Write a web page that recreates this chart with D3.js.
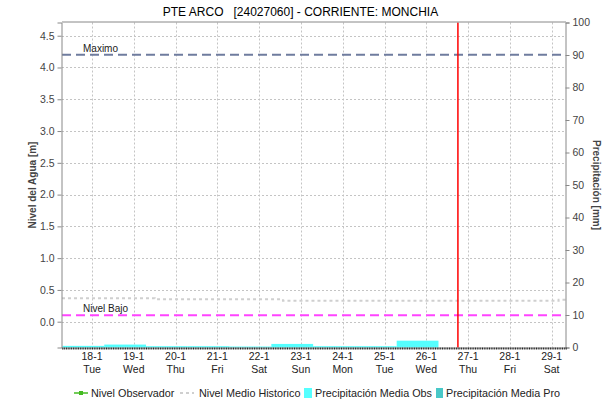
<!DOCTYPE html>
<html><head><meta charset="utf-8">
<script src="https://cdn.jsdelivr.net/npm/d3@7"></script>
<style>body{margin:0;background:#fff}svg{display:block;font-family:"Liberation Sans",Arial,sans-serif}</style>
</head><body>
<script>
const title = "PTE ARCO   [24027060] - CORRIENTE: MONCHIA";
const timeStart = "2022-01-17T06:45";
const timeEnd = "2022-01-29T08:15";
const nowTime = "2022-01-26T18:10";
const levelTicks = [0.0,0.5,1.0,1.5,2.0,2.5,3.0,3.5,4.0,4.5];
const precipTicks = [0,10,20,30,40,50,60,70,80,90,100];
const dayTicks = ["2022-01-18","2022-01-19","2022-01-20","2022-01-21","2022-01-22","2022-01-23","2022-01-24","2022-01-25","2022-01-26","2022-01-27","2022-01-28","2022-01-29"];
const precipStart = ["2022-01-17T07:00","2022-01-18T07:00","2022-01-19T07:00","2022-01-20T07:00","2022-01-21T07:00","2022-01-22T07:00","2022-01-23T07:00","2022-01-24T07:00","2022-01-25T07:00"];
const precipObs = [0.5,0.9,0.4,0.4,0.3,1.1,0.4,0.4,2.1];
const histTimes = ["2022-01-17T06:45","2022-01-19T12:00","2022-01-22T13:40","2022-01-29T04:00","2022-01-29T08:15"];
const histValues = [0.37,0.355,0.33,0.345,0.345];
const maximo = 4.2, nivelBajo = 0.1;
const legendItems = ["Nivel Observador","Nivel Medio Historico","Precipitación Media Obs","Precipitación Media Pro"];

const W=611,H=402, m={l:62,r:566,t:22.5,b:347.5};
const P = d3.timeParse("%Y-%m-%dT%H:%M"), PD=d3.timeParse("%Y-%m-%d");
const x = d3.scaleTime().domain([P(timeStart),P(timeEnd)]).range([m.l,m.r]);
const yL = d3.scaleLinear().domain([-0.406,4.708]).range([m.b,m.t]);
const yR = d3.scaleLinear().domain([0,100]).range([m.b,m.t]);
const svg = d3.select("body").append("svg").attr("width",W).attr("height",H);

svg.append("text").attr("x",300.5).attr("y",16).attr("text-anchor","middle").attr("font-size",12)
 .attr("fill","#000").style("white-space","pre").text(title);

// grid
const g = svg.append("g");
g.selectAll(".hg").data(levelTicks).join("line").attr("x1",m.l).attr("x2",m.r)
 .attr("y1",d=>Math.round(yL(d))+0.5).attr("y2",d=>Math.round(yL(d))+0.5).attr("stroke","#c4c4c4").attr("stroke-dasharray","2,2");
g.selectAll(".vg").data(dayTicks).join("line").attr("y1",m.t).attr("y2",m.b)
 .attr("x1",d=>Math.round(x(PD(d)))+0.5).attr("x2",d=>Math.round(x(PD(d)))+0.5).attr("stroke","#c4c4c4").attr("stroke-dasharray","2,2");

// precipitation bars
svg.selectAll(".bar").data(precipStart).join("rect")
 .attr("x",d=>x(P(d))).attr("width",d=>x(d3.timeDay.offset(P(d),1))-x(P(d)))
 .attr("y",(d,i)=>yR(precipObs[i])).attr("height",(d,i)=>yR(0)-yR(precipObs[i]))
 .attr("fill","#55ffff");

// historic
svg.append("path").datum(histTimes).attr("fill","none").attr("stroke","#cfcfcf").attr("stroke-width",2)
 .attr("stroke-dasharray","3,3")
 .attr("d",d3.line().curve(d3.curveStepAfter).x(d=>x(P(d))).y((d,i)=>yL(histValues[i])));

// threshold lines
svg.append("line").attr("x1",m.l).attr("x2",m.r).attr("y1",yL(maximo)).attr("y2",yL(maximo))
 .attr("stroke","#6f7c9e").attr("stroke-width",2).attr("stroke-dasharray","9,5");
svg.append("line").attr("x1",m.l).attr("x2",m.r).attr("y1",yL(nivelBajo)).attr("y2",yL(nivelBajo))
 .attr("stroke","#ff44ff").attr("stroke-width",2).attr("stroke-dasharray","9,5");
svg.append("text").attr("x",83).attr("y",yL(maximo)-3).attr("font-size",10).attr("fill","#222").text("Maximo");
svg.append("text").attr("x",83).attr("y",yL(nivelBajo)-3).attr("font-size",10).attr("fill","#222").text("Nivel Bajo");

// now line
svg.append("line").attr("x1",x(P(nowTime))).attr("x2",x(P(nowTime))).attr("y1",m.t).attr("y2",m.b)
 .attr("stroke","#ff0000").attr("stroke-width",1.5);

// axes frame
svg.append("line").attr("x1",m.l).attr("x2",m.r).attr("y1",m.t-0.5).attr("y2",m.t-0.5).attr("stroke","#888");
const la = svg.append("g").attr("transform",`translate(${m.l-0.5},0)`)
 .call(d3.axisLeft(yL).tickValues(levelTicks).tickFormat(d3.format(".1f")).tickSize(4).tickPadding(3));
const ra = svg.append("g").attr("transform",`translate(${m.r-0.5},0)`)
 .call(d3.axisRight(yR).tickValues(precipTicks).tickSize(4).tickPadding(3));
[la,ra].forEach(a=>{a.select(".domain").attr("stroke","#888");a.selectAll(".tick line").attr("stroke","#888");
 a.selectAll("text").attr("font-size",10.5).attr("fill","#444").attr("font-family","'Liberation Sans',Arial,sans-serif");});

// bottom hourly minor ticks
const ba = svg.append("g").attr("transform",`translate(0,${m.b})`)
 .call(d3.axisBottom(x).ticks(d3.timeHour.every(1)).tickSize(2).tickFormat(""));
ba.select(".domain").attr("stroke","#777").attr("stroke-width",0.6);
ba.selectAll(".tick line").attr("stroke","#222");

// day labels
const fmtD = d3.timeFormat("%-d-%-m"), fmtW = d3.timeFormat("%a");
const dl = svg.append("g").attr("font-size",10.5).attr("fill","#222").attr("text-anchor","middle");
dl.selectAll(".d").data(dayTicks).join("text").attr("x",d=>x(PD(d))).attr("y",360).text(d=>fmtD(PD(d)));
dl.selectAll(".w").data(dayTicks).join("text").attr("x",d=>x(PD(d))).attr("y",373).text(d=>fmtW(PD(d)));

// axis titles
svg.append("text").attr("transform","translate(36,185) rotate(-90)").attr("text-anchor","middle")
 .attr("font-size",10).attr("font-weight","bold").attr("fill","#444").text("Nivel del Agua [m]");
svg.append("text").attr("transform","translate(593,185) rotate(90)").attr("text-anchor","middle")
 .attr("font-size",10).attr("font-weight","bold").attr("fill","#444").text("Precipitación [mm]");

// legend
const lg = svg.append("g").attr("font-size",10.8).attr("fill","#222");
lg.append("line").attr("x1",74).attr("x2",88).attr("y1",393).attr("y2",393).attr("stroke","#44bb22").attr("stroke-width",1.5);
lg.append("rect").attr("x",79).attr("y",391).attr("width",4).attr("height",4).attr("fill","#44bb22");
lg.append("text").attr("x",91).attr("y",397).text(legendItems[0]);
lg.append("line").attr("x1",180).attr("x2",194).attr("y1",393).attr("y2",393).attr("stroke","#cfcfcf").attr("stroke-width",2).attr("stroke-dasharray","3,3");
lg.append("text").attr("x",199).attr("y",397).text(legendItems[1]);
lg.append("rect").attr("x",304).attr("y",388).attr("width",8).attr("height",10).attr("fill","#55ffff");
lg.append("text").attr("x",315).attr("y",397).text(legendItems[2]);
lg.append("rect").attr("x",436).attr("y",388).attr("width",7).attr("height",10).attr("fill","#48c8c8");
lg.append("text").attr("x",446).attr("y",397).text(legendItems[3]);
</script>
</body></html>
